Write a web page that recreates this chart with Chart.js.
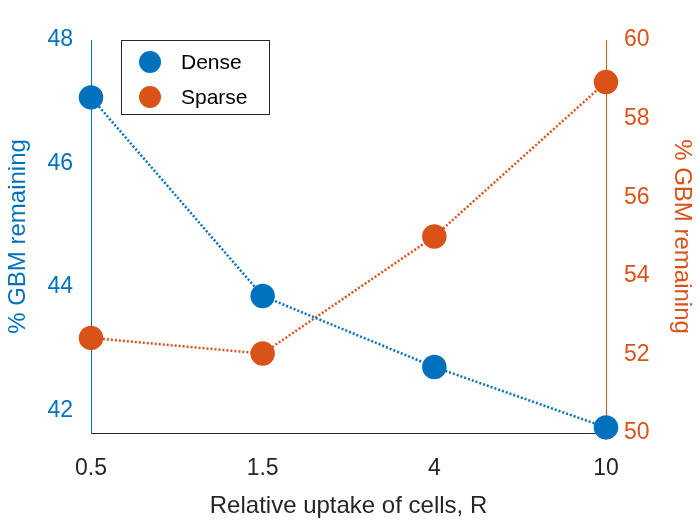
<!DOCTYPE html>
<html><head><meta charset="utf-8">
<script src="https://cdn.jsdelivr.net/npm/chart.js@4/dist/chart.umd.min.js"></script>
<style>body{margin:0;background:#fff}#wrap{width:700px;height:525px}</style>
</head><body><div id="wrap"><canvas id="c"></canvas></div>
<script>
const categories = ["0.5", "1.5", "4", "10"];
const denseValues = [47.07, 43.85, 42.7, 41.72];
const sparseValues = [52.42, 52.02, 55.0, 58.93];
const leftTicks = [42, 44, 46, 48];
const rightTicks = [50, 52, 54, 56, 58, 60];

const blue = "#0072BD", orange = "#D95319";
const font = "Arial, 'Liberation Sans', sans-serif";

const legendBox = {
  id: "legendBox",
  afterDraw(chart) {
    const ctx = chart.ctx;
    ctx.save();
    ctx.fillStyle = "#fff";
    ctx.strokeStyle = "#262626";
    ctx.lineWidth = 1;
    ctx.fillRect(121.5, 40.5, 148, 74);
    ctx.strokeRect(121.5, 40.5, 148, 74);
    [["Dense", blue, 62], ["Sparse", orange, 97]].forEach(([t, c, y]) => {
      ctx.fillStyle = c;
      ctx.beginPath(); ctx.arc(150, y, 11, 0, Math.PI * 2); ctx.fill();
      ctx.fillStyle = "#000";
      ctx.font = "21px " + font;
      ctx.textBaseline = "middle";
      ctx.fillText(t, 181, y + 1);
    });
    ctx.restore();
  }
};

new Chart(document.getElementById("c"), {
  type: "line",
  data: {
    datasets: [
      { label: "Dense", data: denseValues.map((v, i) => ({ x: i, y: v })), yAxisID: "y",
        borderColor: blue, backgroundColor: blue, borderDash: [2, 2], borderWidth: 2.5,
        pointRadius: 11, pointHoverRadius: 11, clip: false },
      { label: "Sparse", data: sparseValues.map((v, i) => ({ x: i, y: v })), yAxisID: "y1",
        borderColor: orange, backgroundColor: orange, borderDash: [2, 2], borderWidth: 2.5,
        pointRadius: 11, pointHoverRadius: 11, clip: false }
    ]
  },
  options: {
    responsive: true, maintainAspectRatio: false, animation: false,
    layout: { padding: { top: 40 } },
    plugins: { legend: { display: false }, tooltip: { enabled: false } },
    scales: {
      x: {
        type: "linear", min: 0, max: 3,
        afterBuildTicks: (a) => { a.ticks = categories.map((c, i) => ({ value: i })); },
        afterFit: (a) => { a.height = 92; },
        ticks: { callback: (v) => categories[v], color: "#262626", font: { size: 23, family: font }, padding: 14 },
        grid: { display: false },
        border: { color: "#262626" },
        title: { display: true, text: "Relative uptake of cells, R", color: "#262626", font: { size: 24, family: font }, padding: { top: 4 } }
      },
      y: {
        position: "left", min: 41.63, max: 48,
        afterBuildTicks: (a) => { a.ticks = leftTicks.map((v) => ({ value: v })); },
        afterFit: (a) => { a.width = 91; },
        ticks: { color: blue, font: { size: 23, family: font }, padding: 10 },
        grid: { display: false },
        border: { color: blue },
        title: { display: true, text: "% GBM remaining", color: blue, font: { size: 24, family: font }, padding: { bottom: 2 } }
      },
      y1: {
        position: "right", min: 50, max: 60,
        afterBuildTicks: (a) => { a.ticks = rightTicks.map((v) => ({ value: v })); },
        afterFit: (a) => { a.width = 94; },
        ticks: { color: orange, font: { size: 23, family: font }, padding: 10 },
        grid: { display: false },
        border: { color: orange },
        title: { display: true, text: "% GBM remaining", color: orange, font: { size: 24, family: font } }
      }
    }
  },
  plugins: [legendBox]
});
</script></body></html>
